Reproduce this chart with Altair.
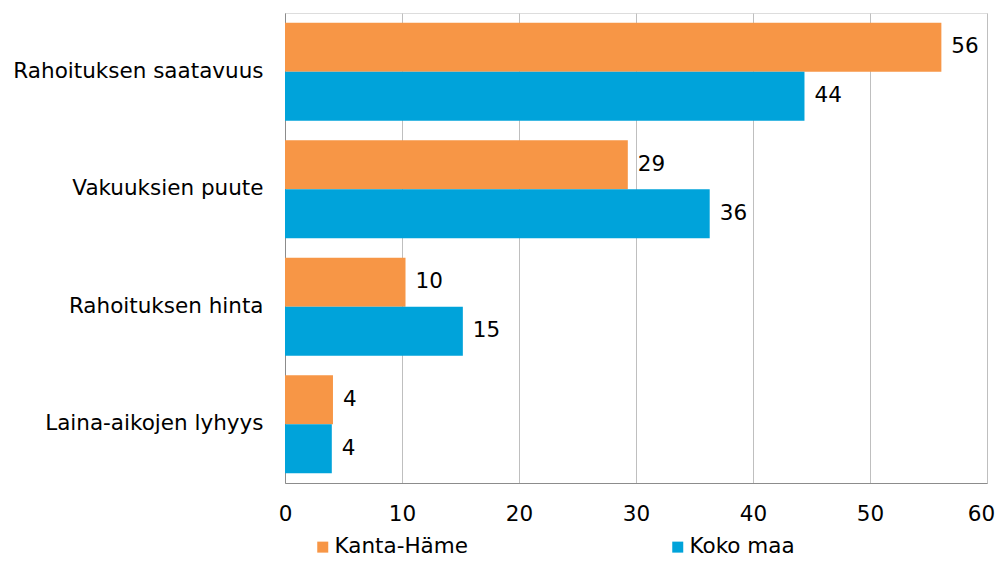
import altair as alt
import pandas as pd

categories = ["Rahoituksen saatavuus", "Vakuuksien puute", "Rahoituksen hinta", "Laina-aikojen lyhyys"]
series = ["Kanta-Häme", "Koko maa"]
kanta_hame = [56.1, 29.3, 10.3, 4.1]
koko_maa = [44.4, 36.3, 15.2, 4.0]
x_ticks = [0, 10, 20, 30, 40, 50, 60]

rows = []
for c, a, b in zip(categories, kanta_hame, koko_maa):
    rows.append({"cat": c, "series": series[0], "value": a})
    rows.append({"cat": c, "series": series[1], "value": b})
df = pd.DataFrame(rows)

FONT = "DejaVu Sans"
FS = 21.5
colors = ["#F79646", "#00A3DA"]

base = alt.Chart(df).encode(
    y=alt.Y("cat:N", sort=categories, title=None,
            scale=alt.Scale(paddingInner=0.166, paddingOuter=0.083),
            axis=alt.Axis(labelFont=FONT, labelFontSize=FS, labelColor="#000000",
                          labelPadding=22, ticks=False, domainColor="#8C8C8C",
                          labelLimit=300)),
    yOffset=alt.YOffset("series:N", sort=series),
)

bars = base.mark_bar().encode(
    x=alt.X("value:Q", title=None,
            scale=alt.Scale(domain=[0, 60], nice=False),
            axis=alt.Axis(values=x_ticks, labelFont=FONT, labelFontSize=FS,
                          labelColor="#000000", labelPadding=20, ticks=False,
                          labelFlush=False,
                          labelOffset={"condition": {"test": "datum.value == 60", "value": -6}, "value": 0},
                          grid=True, gridColor="#BFBFBF", domainColor="#8C8C8C")),
    color=alt.Color("series:N", sort=series,
                    scale=alt.Scale(domain=series, range=colors),
                    legend=alt.Legend(title=None, orient="none", direction="horizontal",
                                      legendX=27, legendY=523, symbolType="square",
                                      symbolSize=121, symbolStrokeWidth=0,
                                      labelFont=FONT, labelFontSize=FS,
                                      labelColor="#000000", columnPadding=199,
                                      labelOffset=1)),
)

labels = base.mark_text(align="left", baseline="middle", dx=10, font=FONT,
                        fontSize=FS, color="#000000").encode(
    x=alt.X("value:Q"),
    text=alt.Text("value:Q", format=".0f"),
)

chart = alt.layer(bars, labels).properties(
    width=702, height=470,
    autosize=alt.AutoSizeParams(type="none"),
    padding={"left": 277, "top": 5, "right": 8, "bottom": 74},
).configure_view(stroke="#BFBFBF").configure(background="#FFFFFF")

chart.save("out.html", embed_options={"renderer": "svg", "actions": False})
